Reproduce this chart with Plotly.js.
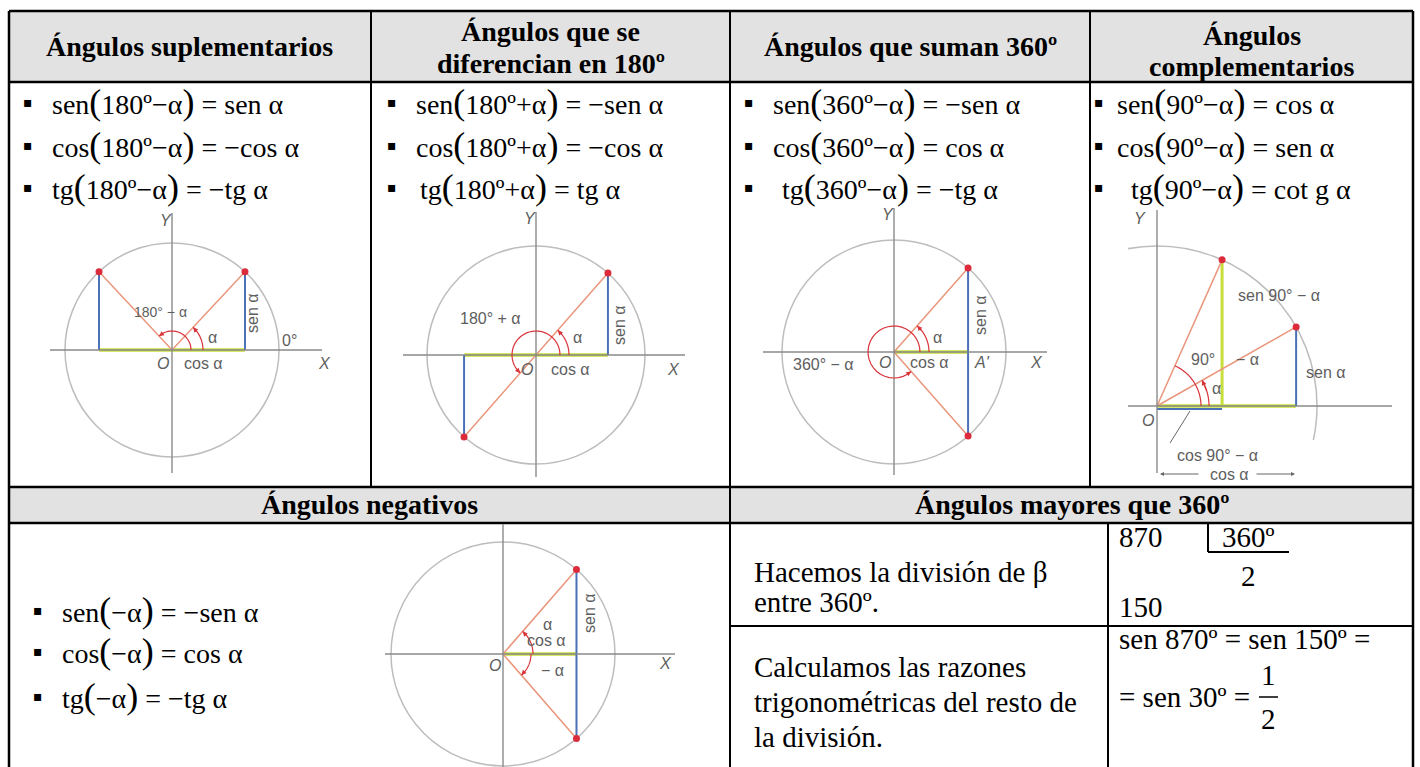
<!DOCTYPE html>
<html><head><meta charset="utf-8">
<script src="https://cdn.plot.ly/plotly-3.0.1.min.js"></script>
<style>html,body{margin:0;padding:0;background:#fff}#chart{width:1420px;height:767px}</style>
</head><body><div id="chart"></div>
<script>
// ---------------- data ----------------
const headersTop = ['Ángulos suplementarios', ['Ángulos que se', 'diferencian en 180º'], 'Ángulos que suman 360º', ['Ángulos', 'complementarios']];
const formulasSuplementarios = ['sen(180º−α) = sen α', 'cos(180º−α) = −cos α', 'tg(180º−α) = −tg α'];
const formulasDiferencian180 = ['sen(180º+α) = −sen α', 'cos(180º+α) = −cos α', 'tg(180º+α) = tg α'];
const formulasSuman360 = ['sen(360º−α) = −sen α', 'cos(360º−α) = cos α', 'tg(360º−α) = −tg α'];
const formulasComplementarios = ['sen(90º−α) = cos α', 'cos(90º−α) = sen α', 'tg(90º−α) = cot g α'];
const formulasNegativos = ['sen(−α) = −sen α', 'cos(−α) = cos α', 'tg(−α) = −tg α'];
const headersBottom = ['Ángulos negativos', 'Ángulos mayores que 360º'];
// angles (degrees) of the two red points in each unit-circle diagram
const anglesSuplementarios = [47, 133];
const anglesDiferencian180 = [48.7, 228.7];
const anglesSuman360 = [48.6, 311.4];
const anglesComplementarios = [29.6, 66];
const anglesNegativos = [49, -49];
// division example
const divisionDividend = '870';
const divisionDivisor = '360º';
const divisionQuotient = '2';
const divisionRemainder = '150';
const explainDivision = ['Hacemos la división de β', 'entre 360º.'];
const explainRatios = ['Calculamos las razones', 'trigonométricas del resto de', 'la división.'];
const resultLines = ['sen 870º = sen 150º =', '= sen 30º ='];
const resultFraction = ['1', '2'];

// ---------------- layout helpers ----------------
const W = 1420, H = 767;
const annotations = [], shapes = [], traces = [];
const SERIF = 'Liberation Serif', SANS = 'Liberation Sans';
function T(px, py, text, o) {
  annotations.push(Object.assign({xref:'paper', yref:'paper', x:px/W, y:1-py/H, text:text, showarrow:false,
    xanchor:'center', yanchor:'middle', font:{family:SERIF, size:28, color:'#000'}}, o || {}));
}
function L(x0, y0, x1, y1, w, c) {
  shapes.push({type:'line', xref:'paper', yref:'paper', x0:x0/W, y0:1-y0/H, x1:x1/W, y1:1-y1/H, line:{color:c || '#000', width:w}});
}
function R(x0, y0, x1, y1, fill) {
  shapes.push({type:'rect', xref:'paper', yref:'paper', x0:x0/W, y0:1-y1/H, x1:x1/W, y1:1-y0/H, fillcolor:fill, line:{width:0}, layer:'below'});
}

// ---------------- table ----------------
const TL = 9, TR = 1413;
R(TL, 11, TR, 82, '#e2e2e2');
R(TL, 487, TR, 523, '#e2e2e2');
[[TL,11,TR,11],[TL,82,TR,82],[TL,487,TR,487],[TL,523,TR,523]].forEach(a => L(a[0],a[1],a[2],a[3],2.5));
L(TL, 11, TL, 767, 2.5); L(TR, 11, TR, 767, 2.5);
L(371, 11, 371, 487, 2); L(730, 11, 730, 767, 2); L(1090, 11, 1090, 487, 2);
L(1108, 523, 1108, 767, 2); L(730, 626, TR, 626, 2);

// headers
const colLeft = [TL, 371, 730, 1090], colRight = [371, 730, 1090, TR];
const hf = {font:{family:SERIF, size:28, color:'#000'}};
T((colLeft[0]+colRight[0])/2, 47, '<b>' + headersTop[0] + '</b>', hf);
T((colLeft[1]+colRight[1])/2, 32, '<b>' + headersTop[1][0] + '</b>', hf);
T((colLeft[1]+colRight[1])/2, 63, '<b>' + headersTop[1][1] + '</b>', hf);
T((colLeft[2]+colRight[2])/2, 47, '<b>' + headersTop[2] + '</b>', hf);
T((colLeft[3]+colRight[3])/2, 36, '<b>' + headersTop[3][0] + '</b>', hf);
T((colLeft[3]+colRight[3])/2, 67, '<b>' + headersTop[3][1] + '</b>', hf);
T((TL+730)/2, 505, '<b>' + headersBottom[0] + '</b>', hf);
T((730+TR)/2, 505, '<b>' + headersBottom[1] + '</b>', hf);

// formulas
const paren = s => s.replace(/\(/g, '<span style="font-size:36px">(</span>').replace(/\)/g, '<span style="font-size:36px">)</span>');
function formulaBlock(list, bx, ys, extra) {
  list.forEach((f, k) => {
    T(bx, ys[k], '▪', {font:{family:'DejaVu Sans', size:14, color:'#000'}});
    T(bx + 22 + (extra ? extra[k] : 0), ys[k], paren(f), {xanchor:'left', font:{family:SERIF, size:28, color:'#000'}});
  });
}
const topY = [102, 145, 187];
formulaBlock(formulasSuplementarios, 28, topY);
formulaBlock(formulasDiferencian180, 392, topY, [0, 0, 4]);
formulaBlock(formulasSuman360, 749, topY, [0, 0, 9]);
formulaBlock(formulasComplementarios, 1099, topY, [-6, -6, 8]);
formulaBlock(formulasNegativos, 38, [610, 651, 696]);

// bottom right
const f29 = {xanchor:'left', font:{family:SERIF, size:29, color:'#000'}};
T(752, 572, explainDivision[0], f29); T(752, 602, explainDivision[1], f29);
T(752, 667, explainRatios[0], f29); T(752, 702, explainRatios[1], f29); T(752, 737, explainRatios[2], f29);
const c29 = {font:{family:SERIF, size:29, color:'#000'}};
T(1141, 537, divisionDividend, c29); T(1248, 537, divisionDivisor, c29);
T(1248, 576, divisionQuotient, c29); T(1141, 607, divisionRemainder, c29);
L(1208, 524, 1208, 552, 2); L(1208, 552, 1289, 552, 2);
T(1117, 639, resultLines[0], f29); T(1117, 697, resultLines[1], f29);
T(1268, 675, resultFraction[0], c29); T(1268, 719, resultFraction[1], c29);
L(1259, 697, 1278, 697, 1.5);

// ---------------- diagrams ----------------
const diag = [
  {box:[20,185,335,478],  o:[172,350], r:107, ax:[50,322], ay:[213,473], ang:anglesSuplementarios},
  {box:[380,200,720,482], o:[536,355], r:109, ax:[403,685], ay:[212,477], ang:anglesDiferencian180},
  {box:[742,200,1080,482],o:[894,352], r:112, ax:[763,1047], ay:[208,475], ang:anglesSuman360},
  {box:[1128,200,1410,440],o:[1157,406], r:160, ax:[1128,1392], ay:[210,473], ang:anglesComplementarios},
  {box:[372,524,700,767], o:[503,654], r:112, ax:[385,675], ay:[524,767], ang:anglesNegativos}
];
const layout = {width:W, height:H, margin:{l:0,r:0,t:0,b:0}, paper_bgcolor:'#fff', plot_bgcolor:'rgba(0,0,0,0)', showlegend:false};
const RED = '#d8343a', ORANGE = '#e9967c', BLUE = '#4a70b8', GREEN = '#c8de3a', GRAY = '#bdbdbd', AXIS = '#8a8a8a';
const rad = a => a * Math.PI / 180;
diag.forEach((d, i) => {
  const sx = i ? String(i + 1) : '';
  const xa = 'x' + sx, ya = 'y' + sx;
  const [x0, y0, x1, y1] = d.box;
  layout['xaxis' + sx] = {domain:[x0/W, x1/W], range:[(x0-d.o[0])/d.r, (x1-d.o[0])/d.r], visible:false, fixedrange:true, anchor:ya};
  layout['yaxis' + sx] = {domain:[1-y1/H, 1-y0/H], range:[(d.o[1]-y1)/d.r, (d.o[1]-y0)/d.r], visible:false, fixedrange:true, anchor:xa};
  L(d.ax[0], d.o[1], d.ax[1], d.o[1], 1.4, AXIS);
  L(d.o[0], d.ay[0], d.o[0], d.ay[1], 1.4, AXIS);
  shapes.push({type:'circle', xref:xa, yref:ya, x0:-1, y0:-1, x1:1, y1:1, line:{color:GRAY, width:1.5}, layer:'below'});
  d.xa = xa; d.ya = ya;
  d.P = d.ang.map(a => [Math.cos(rad(a)), Math.sin(rad(a))]);
});
function seg(d, pts, color, width) {
  const x = [], y = [];
  pts.forEach(p => { if (p === null) { x.push(null); y.push(null); } else { x.push(p[0]); y.push(p[1]); } });
  traces.push({type:'scatter', mode:'lines', xaxis:d.xa, yaxis:d.ya, x:x, y:y, line:{color:color, width:width}, hoverinfo:'skip', cliponaxis:false});
}
function dots(d) {
  traces.push({type:'scatter', mode:'markers', xaxis:d.xa, yaxis:d.ya, x:d.P.map(p => p[0]), y:d.P.map(p => p[1]),
    marker:{color:'#dc2b3b', size:7}, hoverinfo:'skip', cliponaxis:false});
}
function arc(d, a0, a1, rpx, arrow) {
  const r = rpx / d.r, n = 30; let p = '';
  for (let k = 0; k <= n; k++) { const a = rad(a0 + (a1 - a0) * k / n); p += (k ? 'L' : 'M') + (r*Math.cos(a)).toFixed(4) + ',' + (r*Math.sin(a)).toFixed(4); }
  shapes.push({type:'path', xref:d.xa, yref:d.ya, path:p, line:{color:RED, width:1.2}});
  if (arrow) {
    const e = rad(a1), b = rad(a1 - Math.sign(a1 - a0) * 14);
    annotations.push({xref:d.xa, yref:d.ya, axref:d.xa, ayref:d.ya, x:r*Math.cos(e), y:r*Math.sin(e), ax:r*Math.cos(b), ay:r*Math.sin(b),
      text:'', showarrow:true, arrowhead:2, arrowsize:0.9, arrowwidth:1.1, arrowcolor:RED, standoff:0});
  }
}
const O = [0, 0], foot = p => [p[0], 0];
let d = diag[0];
seg(d, [foot(d.P[1]), foot(d.P[0])], GREEN, 3.5);
seg(d, [d.P[0], foot(d.P[0]), null, d.P[1], foot(d.P[1])], BLUE, 2);
seg(d, [d.P[1], O, d.P[0]], ORANGE, 1.5);
arc(d, 0, d.ang[0], 31, true); arc(d, 0, d.ang[1], 19, true); dots(d);
d = diag[1];
seg(d, [foot(d.P[1]), foot(d.P[0])], GREEN, 3.5);
seg(d, [d.P[0], foot(d.P[0]), null, d.P[1], foot(d.P[1])], BLUE, 2);
seg(d, [d.P[1], d.P[0]], ORANGE, 1.5);
arc(d, 0, d.ang[0], 33, true); arc(d, 0, d.ang[1], 24, true); dots(d);
d = diag[2];
seg(d, [O, foot(d.P[0])], GREEN, 3.5);
seg(d, [d.P[0], d.P[1]], BLUE, 2);
seg(d, [d.P[0], O, d.P[1]], ORANGE, 1.5);
arc(d, 0, d.ang[0], 35, true); arc(d, 0, d.ang[1], 26, true); dots(d);
d = diag[3];
seg(d, [O, foot(d.P[0])], GREEN, 3.5);
seg(d, [d.P[1], foot(d.P[1])], GREEN, 3);
seg(d, [[0, -3/d.r], [d.P[1][0], -3/d.r]], BLUE, 2);
seg(d, [d.P[0], foot(d.P[0])], BLUE, 2);
seg(d, [O, d.P[0], null, O, d.P[1]], ORANGE, 1.5);
arc(d, 0, d.ang[0], 52, true); arc(d, 0, d.ang[1], 44, false); dots(d);
d = diag[4];
seg(d, [O, foot(d.P[0])], GREEN, 3.5);
seg(d, [d.P[0], d.P[1]], BLUE, 2);
seg(d, [d.P[0], O, d.P[1]], ORANGE, 1.5);
arc(d, 0, d.ang[0], 30, true); arc(d, 0, d.ang[1], 28, true); dots(d);

// diagram labels
const lab = {font:{family:SANS, size:16, color:'#5e5e5e'}};
function DL(px, py, t, rot, sz) { T(px, py, t, Object.assign({}, {font:{family:SANS, size:sz || 16, color:'#5e5e5e'}}, rot ? {textangle:-90} : {})); }
function DI(px, py, t) { T(px, py, '<i>' + t + '</i>', lab); }
DI(166, 220, 'Y'); DL(160, 312, '180° − α', false, 14); DL(212, 338, 'α'); DL(252, 313, 'sen α', true); DL(289, 341, '0°');
DI(163, 363, 'O'); DL(203, 363, 'cos α'); DI(324, 363, 'X');
DI(530, 218, 'Y'); DL(490, 318, '180° + α'); DL(577, 338, 'α'); DL(619, 325, 'sen α', true);
DI(527, 369, 'O'); DL(570, 369, 'cos α'); DI(673, 369, 'X');
DI(888, 214, 'Y'); DL(937, 338, 'α'); DL(980, 315, 'sen α', true); DI(885, 362, 'O'); DL(929, 362, 'cos α');
DI(982, 362, "A'"); DI(1036, 362, 'X'); DL(823, 364, '360° − α');
DI(1140, 218, 'Y'); DL(1279, 295, 'sen 90° − α'); DL(1203, 360, '90°'); DL(1247, 360, '− α'); DL(1326, 373, 'sen α');
DL(1216, 388, 'α'); DI(1148, 420, 'O'); DL(1217, 455, 'cos 90° − α'); DL(1229, 474, 'cos α');
L(1190, 411, 1170, 443, 1, '#666');
annotations.push({xref:'paper', yref:'paper', x:1160/W, y:1-474/H, ax:40, ay:0, text:'', showarrow:true, arrowhead:2, arrowsize:0.8, arrowwidth:1, arrowcolor:'#666'});
annotations.push({xref:'paper', yref:'paper', x:1295/W, y:1-474/H, ax:-40, ay:0, text:'', showarrow:true, arrowhead:2, arrowsize:0.8, arrowwidth:1, arrowcolor:'#666'});
DL(547, 624, 'α'); DL(546, 640, 'cos α'); DL(589, 613, 'sen α', true); DI(495, 665, 'O'); DL(552, 670, '− α'); DI(665, 663, 'X');

layout.shapes = shapes;
layout.annotations = annotations;
Plotly.newPlot('chart', traces, layout, {displayModeBar:false, staticPlot:true});
</script>
</body></html>
